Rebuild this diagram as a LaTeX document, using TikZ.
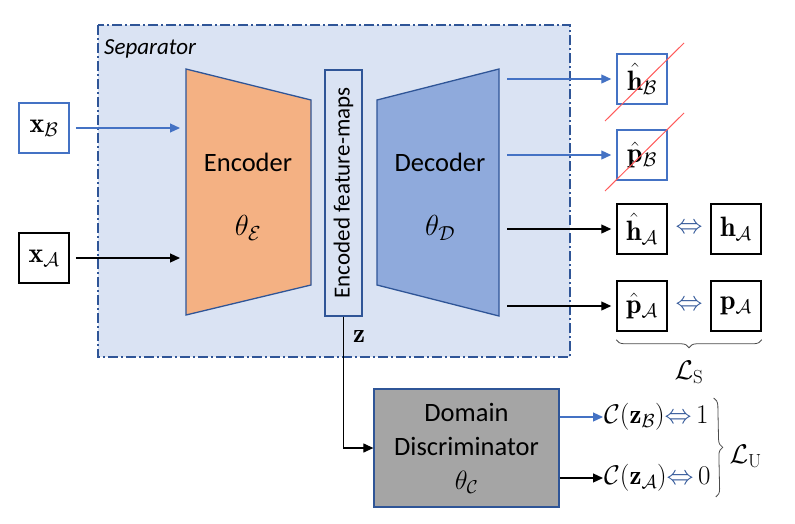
\RequirePackage{fix-cm}
\documentclass[tikz,border=0pt]{standalone}
\usepackage{amsmath}
\usepackage{fontspec}
\newfontfamily\calibri{Carlito}
\usetikzlibrary{arrows.meta,decorations.pathreplacing,positioning}

\definecolor{sepfill}{HTML}{DAE3F3}
\definecolor{sepline}{HTML}{2F5597}
\definecolor{encfill}{HTML}{F4B183}
\definecolor{decfill}{HTML}{8FAADC}
\definecolor{discfill}{HTML}{A5A5A5}
\definecolor{arrblue}{HTML}{4472C4}
\definecolor{strikered}{HTML}{FF5B5B}

\begin{document}
\begin{tikzpicture}[x=1pt, y=-1pt, >={Triangle[length=10pt, width=9pt]},
	lbl/.style={font=\calibri\fontsize{26.5}{30}\selectfont},
	mth/.style={font=\fontsize{27}{30}\selectfont},
	var/.style={draw, line width=1.5pt, minimum size=50pt, inner sep=0pt, font=\fontsize{28}{30}\selectfont},
	blk/.style={->, line width=1.2pt},
	blu/.style={->, line width=1.2pt, arrblue},
	strikeout/.style={strikered, line width=1pt},
	brace/.style={decorate, decoration={brace, amplitude=8pt}, line width=0.8pt, black!70}]
	\useasboundingbox (0,0) rectangle (795,523);

	% separator frame
	\draw[sepline, fill=sepfill, line width=1.5pt, dash pattern=on 10pt off 3pt on 2pt off 3pt] (98,25) rectangle (570,357);
	\node[font=\calibri\itshape\fontsize{23}{26}\selectfont, anchor=base west, inner sep=0pt] (sep) at (104,54) {Separator};

	% encoder and decoder
	\draw[sepline, fill=encfill, line width=1.3pt] (186,69) -- (311,100) -- (311,285) -- (186,315) -- cycle;
	\draw[sepline, fill=decfill, line width=1.3pt] (377,100) -- (499,69) -- (499,316) -- (377,285) -- cycle;
	\node[lbl] (enc) at (248,162) {Encoder};
	\node[mth, font=\fontsize{29}{30}\selectfont] (thE) at (248,228) {$\theta_{\mathcal{E}}$};
	\node[lbl] (dec) at (440,162) {Decoder};
	\node[mth, font=\fontsize{29}{30}\selectfont] (thD) at (440,228) {$\theta_{\mathcal{D}}$};
	\node[draw=sepline, fill=sepfill, line width=1.3pt, minimum width=37pt, minimum height=246pt, inner sep=0pt] (fmap) at (343.5,193)
		{\rotatebox{90}{\calibri\fontsize{23}{26}\selectfont Encoded feature-maps}};
	\coordinate (encB) at (180,128);
	\coordinate (encA) at (180,258);
	\foreach \n/\y in {1/79, 2/155, 3/229, 4/306}
		\coordinate (dec\n) at (507,\y);

	% inputs
	\node[var, draw=arrblue] (xB) at (44,128) {$\mathbf{x}_{\mathcal{B}}$};
	\node[var] (xA) at (44,258) {$\mathbf{x}_{\mathcal{A}}$};
	\draw[blu, shorten <=6pt] (xB) -- (encB);
	\draw[blk, shorten <=6pt] (xA) -- (encA);

	% outputs
	\node[var, draw=arrblue] (hB) at (642,79) {$\hat{\mathbf{h}}_{\mathcal{B}}$};
	\node[var, draw=arrblue] (pB) at (642,155) {$\hat{\mathbf{p}}_{\mathcal{B}}$};
	\node[var] (hA) at (642,229) {$\hat{\mathbf{h}}_{\mathcal{A}}$};
	\node[var] (pA) at (642,306) {$\hat{\mathbf{p}}_{\mathcal{A}}$};
	\node[var] (hAt) at (736,229) {$\mathbf{h}_{\mathcal{A}}$};
	\node[var] (pAt) at (736,306) {$\mathbf{p}_{\mathcal{A}}$};
	\node[mth, text=sepline] (eqh) at (689,229) {$\Leftrightarrow$};
	\node[mth, text=sepline] (eqp) at (689,306) {$\Leftrightarrow$};
	\draw[blu, shorten >=5pt] (dec1) -- (hB);
	\draw[blu, shorten >=5pt] (dec2) -- (pB);
	\draw[blk, shorten >=5pt] (dec3) -- (hA);
	\draw[blk, shorten >=5pt] (dec4) -- (pA);
	\draw[strikeout] ([shift={(-37,42)}]hB.center) -- ([shift={(42,-36)}]hB.center);
	\draw[strikeout] ([shift={(-37,36)}]pB.center) -- ([shift={(42,-42)}]pB.center);
	\draw[brace] ([yshift=-8pt]pAt.south east) -- ([yshift=-8pt]pA.south west);
	\node[mth] (LS) at (689,372) {$\mathcal{L}_{\mathrm{S}}$};

	% domain discriminator
	\node[draw=sepline, fill=discfill, line width=1.3pt, minimum width=185pt, minimum height=118pt, align=center,
		font=\calibri\fontsize{26.5}{34}\selectfont] (disc) at (466.5,448) {Domain\\Discriminator\\$\theta_{\mathcal{C}}$};
	\draw[blk] (fmap.south) |- (disc.west);
	\node[mth] (zlbl) at (359,336) {$\mathbf{z}$};
	\node[mth, anchor=west, inner sep=0pt] (cB) at (604,417)
		{$\mathcal{C}(\mathbf{z}_{\mathcal{B}}){\color{sepline}\Leftrightarrow}\,1$};
	\node[mth, anchor=west, inner sep=0pt] (cA) at (604,478)
		{$\mathcal{C}(\mathbf{z}_{\mathcal{A}}){\color{sepline}\Leftrightarrow}\,0$};
	\draw[blu, shorten >=1pt] (disc.east |- cB.west) -- (cB.west);
	\draw[blk, shorten >=1pt] (disc.east |- cA.west) -- (cA.west);
	\draw[brace] ([shift={(5,-19)}]cB.east) -- ([shift={(5,19)}]cA.east);
	\node[mth, anchor=west] (LU) at (726,456) {$\mathcal{L}_{\mathrm{U}}$};
\end{tikzpicture}
\end{document}
